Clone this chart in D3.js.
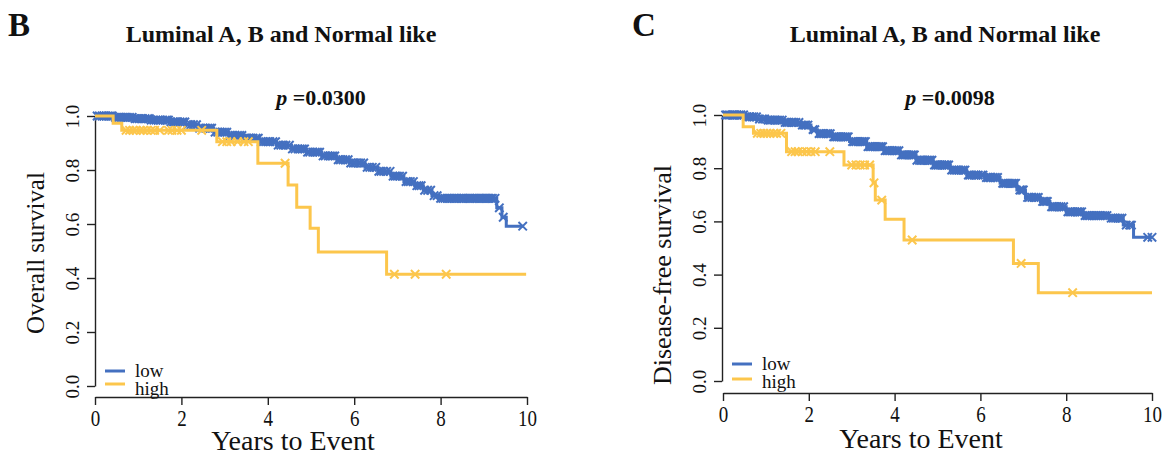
<!DOCTYPE html>
<html>
<head>
<meta charset="utf-8">
<script src="https://cdn.jsdelivr.net/npm/d3@7"></script>
<style>
  body { margin: 0; background: #fff; }
  svg text { font-family: "Liberation Serif", "Times New Roman", serif; fill: #111; }
</style>
</head>
<body>
<svg id="chart" width="1171" height="458"></svg>
<script>
// tick values
const yearTicks = [0, 2, 4, 6, 8, 10];
const survTicks = [0, 0.2, 0.4, 0.6, 0.8, 1.0];

// B: overall survival, low group (step times / survival)
const osLowTime = [0, 0.45, 0.9, 1.3, 1.75, 2.1, 2.4, 2.75, 3.1, 3.45, 3.8, 4.2, 4.55, 4.9, 5.25, 5.6, 5.9, 6.25, 6.55, 6.85, 7.15, 7.4, 7.6, 7.8, 7.95, 9.3, 9.42, 9.52];
const osLowSurv = [1, 0.995, 0.99, 0.985, 0.978, 0.968, 0.955, 0.94, 0.928, 0.918, 0.905, 0.892, 0.878, 0.866, 0.852, 0.838, 0.826, 0.81, 0.795, 0.777, 0.757, 0.742, 0.725, 0.705, 0.695, 0.66, 0.625, 0.592];
const osLowEnd = 9.9;
const osLowCens = [0.05, 0.1, 0.16, 0.2, 0.26, 0.31, 0.36, 0.4, 0.47, 0.52, 0.56, 0.6, 0.66, 0.71, 0.75, 0.8, 0.86, 0.93, 0.97, 1.02, 1.06, 1.1, 1.16, 1.22, 1.26, 1.3, 1.36, 1.41, 1.46, 1.5, 1.57, 1.63, 1.67, 1.7, 1.76, 1.82, 1.86, 1.9, 1.97, 2.03, 2.08, 2.15, 2.22, 2.28, 2.35, 2.42, 2.5, 2.56, 2.61, 2.66, 2.7, 2.78, 2.84, 2.9, 2.95, 3.0, 3.05, 3.12, 3.18, 3.24, 3.3, 3.35, 3.4, 3.47, 3.52, 3.56, 3.6, 3.66, 3.73, 3.78, 3.85, 3.9, 3.95, 4.0, 4.05, 4.12, 4.18, 4.24, 4.3, 4.36, 4.42, 4.5, 4.57, 4.63, 4.7, 4.75, 4.8, 4.85, 4.92, 4.97, 5.04, 5.1, 5.15, 5.2, 5.28, 5.33, 5.4, 5.45, 5.5, 5.55, 5.63, 5.68, 5.74, 5.8, 5.86, 5.92, 5.98, 6.03, 6.1, 6.15, 6.22, 6.3, 6.36, 6.42, 6.5, 6.57, 6.62, 6.68, 6.75, 6.83, 6.9, 6.95, 7.0, 7.05, 7.12, 7.2, 7.25, 7.3, 7.37, 7.45, 7.5, 7.55, 7.63, 7.7, 7.77, 7.85, 7.92, 8.0, 8.05, 8.1, 8.15, 8.2, 8.25, 8.3, 8.34, 8.38, 8.43, 8.47, 8.51, 8.55, 8.6, 8.65, 8.68, 8.72, 8.76, 8.8, 8.85, 8.9, 8.94, 8.98, 9.02, 9.05, 9.08, 9.12, 9.16, 9.2, 9.26, 9.36, 9.45, 9.9];

// B: overall survival, high group
const osHighTime = [0, 0.42, 0.62, 2.82, 3.77, 4.47, 4.67, 4.98, 5.17, 6.75];
const osHighSurv = [1, 0.973, 0.947, 0.905, 0.825, 0.744, 0.662, 0.584, 0.496, 0.414];
const osHighEnd = 9.98;
const osHighCens = [0.72, 0.8, 0.88, 0.95, 1.05, 1.12, 1.2, 1.3, 1.38, 1.5, 1.7, 1.78, 1.9, 2.0, 2.47, 2.95, 3.05, 3.15, 3.3, 3.45, 3.55, 4.4, 6.93, 7.41, 8.13];

// C: disease-free survival, low group
const dfsLowTime = [0, 0.5, 0.8, 1.0, 1.4, 1.8, 2.05, 2.2, 2.55, 2.95, 3.35, 3.75, 4.13, 4.5, 4.9, 5.3, 5.68, 6.1, 6.46, 6.85, 7.05, 7.4, 7.62, 8.0, 8.4, 9.0, 9.33, 9.57];
const dfsLowSurv = [1, 0.993, 0.985, 0.981, 0.972, 0.962, 0.945, 0.93, 0.918, 0.9, 0.881, 0.866, 0.85, 0.83, 0.812, 0.793, 0.774, 0.765, 0.743, 0.718, 0.69, 0.675, 0.655, 0.636, 0.622, 0.612, 0.586, 0.54];
const dfsLowEnd = 10;
const dfsLowCens = [0.06, 0.1, 0.15, 0.2, 0.24, 0.28, 0.33, 0.38, 0.42, 0.48, 0.55, 0.6, 0.63, 0.68, 0.72, 0.78, 0.85, 0.92, 0.97, 1.05, 1.09, 1.13, 1.18, 1.22, 1.27, 1.32, 1.38, 1.45, 1.49, 1.53, 1.58, 1.62, 1.66, 1.7, 1.77, 1.85, 1.9, 1.93, 1.98, 2.1, 2.14, 2.24, 2.28, 2.32, 2.36, 2.41, 2.45, 2.5, 2.58, 2.62, 2.66, 2.7, 2.75, 2.8, 2.84, 2.88, 2.92, 3.02, 3.06, 3.1, 3.15, 3.2, 3.24, 3.28, 3.32, 3.38, 3.42, 3.46, 3.5, 3.55, 3.6, 3.64, 3.68, 3.72, 3.78, 3.82, 3.86, 3.9, 3.95, 4.0, 4.05, 4.1, 4.16, 4.2, 4.24, 4.28, 4.33, 4.38, 4.42, 4.46, 4.52, 4.58, 4.62, 4.65, 4.7, 4.75, 4.79, 4.83, 4.87, 4.93, 4.97, 5.01, 5.05, 5.1, 5.15, 5.18, 5.22, 5.26, 5.33, 5.38, 5.42, 5.45, 5.5, 5.55, 5.6, 5.64, 5.72, 5.75, 5.8, 5.85, 5.9, 5.95, 6.02, 6.06, 6.14, 6.18, 6.22, 6.25, 6.3, 6.35, 6.4, 6.52, 6.56, 6.6, 6.65, 6.7, 6.74, 6.78, 6.82, 6.92, 6.96, 7.0, 7.1, 7.14, 7.2, 7.25, 7.3, 7.35, 7.45, 7.48, 7.52, 7.56, 7.66, 7.7, 7.74, 7.78, 7.83, 7.88, 7.94, 8.04, 8.08, 8.12, 8.15, 8.2, 8.25, 8.28, 8.32, 8.36, 8.44, 8.48, 8.52, 8.55, 8.6, 8.65, 8.7, 8.75, 8.8, 8.85, 8.9, 8.95, 9.05, 9.1, 9.15, 9.2, 9.25, 9.3, 9.4, 9.48, 9.52, 9.9, 10.0];

// C: disease-free survival, high group
const dfsHighTime = [0, 0.47, 0.71, 1.48, 2.82, 3.5, 3.55, 3.78, 4.22, 6.77, 7.35];
const dfsHighSurv = [1, 0.956, 0.931, 0.862, 0.812, 0.745, 0.68, 0.608, 0.53, 0.442, 0.332];
const dfsHighEnd = 10;
const dfsHighCens = [0.8, 0.88, 0.95, 1.02, 1.1, 1.18, 1.25, 1.35, 1.6, 1.68, 1.75, 1.85, 1.95, 2.05, 2.15, 2.49, 3.0, 3.1, 3.2, 3.3, 3.42, 3.52, 3.7, 4.41, 6.95, 8.15];

const groups = ["low", "high"];
const colors = { low: "#4470c0", high: "#fcc64c" };

const svg = d3.select("#chart");

function stepValue(times, surv, t) {
  let v = surv[0];
  for (let i = 0; i < times.length; i++) if (times[i] <= t) v = surv[i];
  return v;
}

function drawPanel(p) {
  const x = d3.scaleLinear().domain([0, 10]).range([p.x0, p.x1]);
  const y = d3.scaleLinear().domain([0, 1]).range([p.y0, p.y1]);
  const g = svg.append("g");

  // panel letter, title, p value
  g.append("text").attr("x", p.letterX).attr("y", 36)
    .style("font-size", "33px").style("font-weight", "bold").text(p.letter);
  g.append("text").attr("x", p.titleX).attr("y", 42).attr("text-anchor", "middle")
    .style("font-size", "24px").style("font-weight", "bold").text("Luminal A, B and Normal like");
  const pt = g.append("text").attr("x", p.pX).attr("y", 105).attr("text-anchor", "middle")
    .style("font-size", "22px").style("font-weight", "bold");
  pt.append("tspan").style("font-style", "italic").text("p");
  pt.append("tspan").text(" =" + p.pval);

  // axes
  const xAxis = g.append("g")
    .attr("transform", "translate(0," + p.xAxisY + ")")
    .call(d3.axisBottom(x).tickValues(yearTicks).tickSize(8).tickSizeOuter(0).tickFormat(d3.format("d")));
  xAxis.selectAll("text").attr("y", 0).attr("dy", 0)
    .attr("transform", "translate(0,29) scale(1,1.2)")
    .style("font-size", "19px");

  const yAxis = g.append("g")
    .attr("transform", "translate(" + p.yAxisX + ",0)")
    .call(d3.axisLeft(y).tickValues(survTicks).tickSize(8).tickSizeOuter(0).tickFormat(d3.format(".1f")));
  yAxis.selectAll("text")
    .attr("x", 0).attr("dy", 0).attr("text-anchor", "middle")
    .attr("transform", "translate(-16,0) rotate(-90)")
    .style("font-size", "19px");

  g.selectAll(".domain, .tick line").attr("stroke", "#222").attr("stroke-width", 1.4);

  g.append("text").attr("x", p.xLabX).attr("y", p.xLabY).attr("text-anchor", "middle")
    .style("font-size", "28px").text("Years to Event");
  g.append("text")
    .attr("transform", "translate(" + p.yLabX + "," + p.yLabY + ") rotate(-90)")
    .attr("text-anchor", "middle").style("font-size", p.yLabSize).text(p.ylab);

  // survival curves
  p.series.forEach(s => {
    const pts = [];
    s.time.forEach((t, i) => pts.push([t, s.surv[i]]));
    pts.push([s.end, s.surv[s.surv.length - 1]]);
    const line = d3.line().curve(d3.curveStepAfter).x(d => x(d[0])).y(d => y(d[1]));
    g.append("path").datum(pts)
      .attr("fill", "none").attr("stroke", colors[s.group]).attr("stroke-width", 3)
      .attr("d", line);

    const k = 4.2;
    g.selectAll(null).data(s.cens).enter().append("path")
      .attr("transform", t => "translate(" + x(t) + "," + y(stepValue(s.time, s.surv, t)) + ")")
      .attr("d", "M" + -k + "," + -k + "L" + k + "," + k + "M" + -k + "," + k + "L" + k + "," + -k)
      .attr("stroke", colors[s.group]).attr("stroke-width", 2).attr("fill", "none");
  });

  // legend
  groups.forEach((gr, i) => {
    const ly = p.legY + i * p.legLineGap;
    g.append("line").attr("x1", p.legX).attr("x2", p.legX + 20).attr("y1", ly).attr("y2", ly)
      .attr("stroke", colors[gr]).attr("stroke-width", 3);
    g.append("text").attr("x", p.legX + 30).attr("y", p.legTextY + i * 18)
      .style("font-size", "19px").text(gr);
  });
}

drawPanel({
  letter: "B", letterX: 8, titleX: 281, pX: 321, pval: "0.0300",
  x0: 95, x1: 527, y0: 386, y1: 116, xAxisY: 397, yAxisX: 95,
  xLabX: 293, xLabY: 450,
  yLabX: 44, yLabY: 253, yLabSize: "25px", ylab: "Overall survival",
  legX: 105, legY: 371, legLineGap: 13, legTextY: 377,
  series: [
    { group: "low", time: osLowTime, surv: osLowSurv, end: osLowEnd, cens: osLowCens },
    { group: "high", time: osHighTime, surv: osHighSurv, end: osHighEnd, cens: osHighCens }
  ]
});

drawPanel({
  letter: "C", letterX: 632, titleX: 945, pX: 950, pval: "0.0098",
  x0: 723, x1: 1152, y0: 381, y1: 115, xAxisY: 393, yAxisX: 722,
  xLabX: 921, xLabY: 448,
  yLabX: 671, yLabY: 275, yLabSize: "26px", ylab: "Disease-free survival",
  legX: 732, legY: 364, legLineGap: 15, legTextY: 370,
  series: [
    { group: "low", time: dfsLowTime, surv: dfsLowSurv, end: dfsLowEnd, cens: dfsLowCens },
    { group: "high", time: dfsHighTime, surv: dfsHighSurv, end: dfsHighEnd, cens: dfsHighCens }
  ]
});
</script>
</body>
</html>
